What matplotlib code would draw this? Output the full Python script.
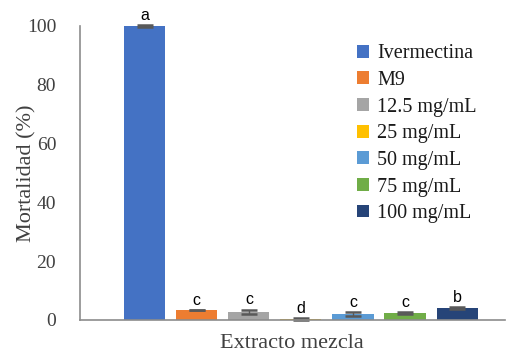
import numpy as np
import matplotlib.pyplot as plt

# Mortality data for each treatment
treatments = ["Ivermectina", "M9", "12.5 mg/mL", "25 mg/mL", "50 mg/mL", "75 mg/mL", "100 mg/mL"]
mortality = [100.0, 3.4, 2.8, 0.3, 2.0, 2.4, 4.1]
errors = [0.2, 0.1, 0.75, 0.5, 0.7, 0.2, 0.2]
letters = ["a", "c", "c", "d", "c", "c", "b"]
colors = ["#4472C4", "#ED7D31", "#A5A5A5", "#FFC000", "#5B9BD5", "#70AD47", "#264478"]
yticks = [0, 20, 40, 60, 80, 100]

plt.rcParams['font.family'] = ['Liberation Serif', 'DejaVu Serif']

fig = plt.figure(figsize=(5.08, 3.55), dpi=100)
ax = fig.add_axes([0.157, 0.0986, 0.837, 0.8284])

x = np.arange(len(treatments))
width = 0.79
for i in range(len(treatments)):
    ax.bar(x[i], mortality[i], width=width, color=colors[i], label=treatments[i], zorder=2)
    # lower whisker stops at zero
    low = min(errors[i], mortality[i])
    ax.errorbar(x[i], mortality[i], yerr=[[low], [errors[i]]], fmt="none", ecolor="#595959",
                elinewidth=1, capsize=5.5, capthick=1.8, zorder=3, clip_on=False)
    ax.annotate(letters[i], (x[i], mortality[i] + errors[i]), xytext=(0, 1.5),
                textcoords="offset points", ha="center", va="bottom",
                fontsize=11.5, family="Liberation Sans", color="black",
                annotation_clip=False)

ax.set_xlim(-1.25, 6.92)
ax.set_ylim(0, 100)
ax.set_yticks(yticks)
ax.set_xticks([])
ax.tick_params(axis="y", length=0, labelsize=14, pad=17, labelcolor="#404040")

for side in ["top", "right"]:
    ax.spines[side].set_visible(False)
for side in ["left", "bottom"]:
    ax.spines[side].set_color("#8c8c8c")
    ax.spines[side].set_linewidth(1.2)
    ax.spines[side].set_zorder(4)

ax.set_ylabel("Mortalidad (%)", fontsize=16, color="#404040", labelpad=-7)
ax.set_xlabel("Extracto mezcla", fontsize=16, color="#404040", labelpad=10)

leg = ax.legend(loc="upper left", bbox_to_anchor=(0.633, 0.965), frameon=False,
                fontsize=14.5, handlelength=0.6, handleheight=0.6, handletextpad=0.4,
                labelspacing=0.38, borderaxespad=0)
for t in leg.get_texts():
    t.set_color("#1a1a1a")

fig.savefig("out.png", dpi=100)
